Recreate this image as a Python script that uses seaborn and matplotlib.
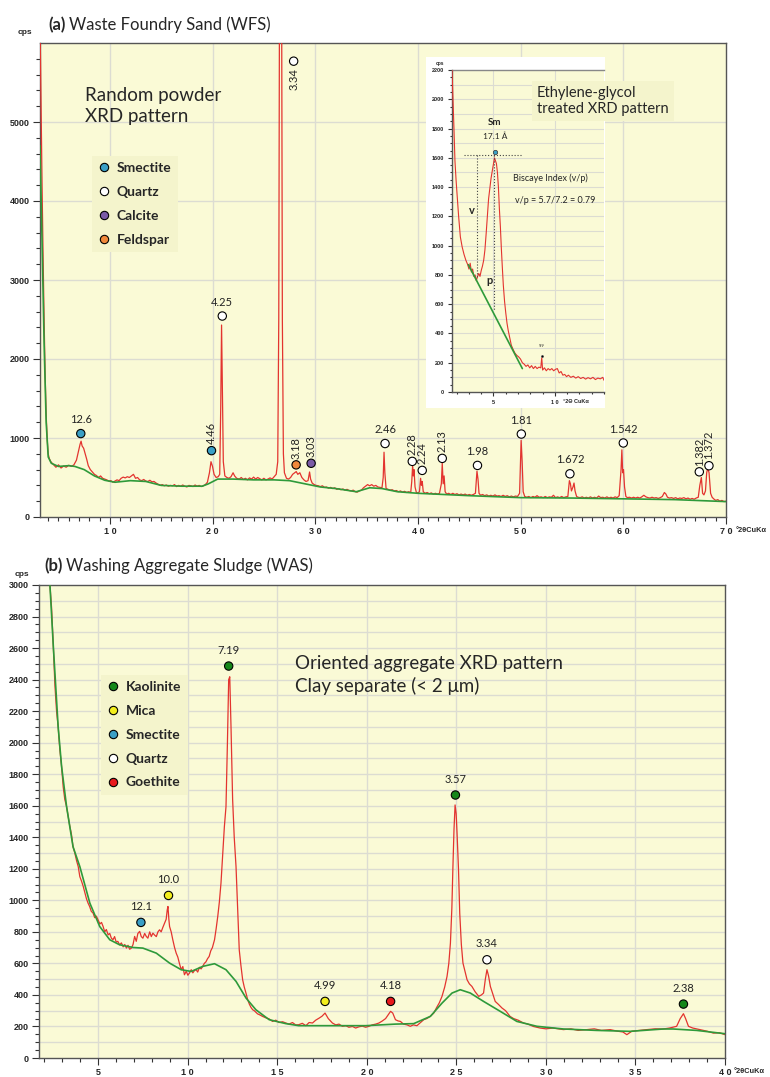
import numpy as np
import pandas as pd
import matplotlib
matplotlib.use("Agg")
import matplotlib.pyplot as plt
import seaborn as sns
from matplotlib.lines import Line2D
from matplotlib.patches import Rectangle

sns.set_style("white")
plt.rcParams['font.family'] = ['Lato', 'DejaVu Sans']

# ---------------- (a) Waste Foundry Sand, random powder pattern ----------------
WFS_2THETA = [
    3.2, 3.3, 3.4, 3.5, 3.6, 3.7, 3.8, 3.9, 4.0, 4.1,
    4.25, 4.5, 4.75, 5.0, 5.25, 5.5, 5.75, 6.0, 6.25, 6.5,
    6.75, 7.0, 7.1, 7.2, 7.3, 7.45, 7.6, 7.75, 7.9, 8.1,
    8.3, 8.5, 8.7, 8.9, 9.1, 9.3, 9.5, 9.7, 9.9, 10.1,
    10.3, 10.5, 10.7, 10.9, 11.1, 11.3, 11.5, 11.7, 11.9, 12.1,
    12.3, 12.5, 12.7, 12.9, 13.1, 13.3, 13.5, 13.7, 13.9, 14.1,
    14.3, 14.5, 14.7, 14.9, 15.1, 15.3, 15.5, 15.7, 15.9, 16.1,
    16.3, 16.5, 16.7, 16.9, 17.1, 17.3, 17.5, 17.7, 17.9, 18.1,
    18.3, 18.5, 18.7, 18.9, 19.1, 19.3, 19.5, 19.7, 19.85, 20.0,
    20.15, 20.35, 20.55, 20.7, 20.8, 20.88, 20.96, 21.05, 21.2, 21.4,
    21.6, 21.8, 22.0, 22.15, 22.35, 22.6, 22.8, 23.0, 23.2, 23.4,
    23.6, 23.8, 24.0, 24.2, 24.4, 24.6, 24.8, 25.0, 25.2, 25.4,
    25.6, 25.8, 26.0, 26.2, 26.35, 26.45, 26.52, 26.73, 26.8, 26.9,
    27.0, 27.2, 27.4, 27.6, 27.8, 28.0, 28.15, 28.3, 28.5, 28.7,
    28.9, 29.1, 29.3, 29.45, 29.55, 29.7, 29.9, 30.1, 30.3, 30.5,
    30.7, 30.9, 31.1, 31.3, 31.5, 31.7, 31.9, 32.1, 32.3, 32.5,
    32.7, 32.9, 33.1, 33.3, 33.5, 33.7, 33.9, 34.1, 34.3, 34.5,
    34.7, 34.9, 35.1, 35.3, 35.5, 35.7, 35.9, 36.1, 36.3, 36.5,
    36.62, 36.7, 36.78, 36.9, 37.1, 37.3, 37.5, 37.7, 37.9, 38.1,
    38.3, 38.5, 38.7, 38.9, 39.1, 39.3, 39.4, 39.48, 39.55, 39.62,
    39.72, 39.85, 40.0, 40.15, 40.26, 40.34, 40.42, 40.52, 40.7, 40.9,
    41.1, 41.3, 41.5, 41.7, 41.9, 42.1, 42.28, 42.37, 42.46, 42.55,
    42.65, 42.8, 43.0, 43.2, 43.4, 43.6, 43.8, 44.0, 44.2, 44.4,
    44.6, 44.8, 45.0, 45.2, 45.4, 45.6, 45.75, 45.85, 45.95, 46.1,
    46.3, 46.5, 46.7, 46.9, 47.1, 47.3, 47.5, 47.7, 47.9, 48.1,
    48.3, 48.5, 48.7, 48.9, 49.1, 49.3, 49.5, 49.7, 49.9, 50.05,
    50.15, 50.25, 50.4, 50.6, 50.8, 51.0, 51.2, 51.4, 51.6, 51.8,
    52.0, 52.2, 52.4, 52.6, 52.8, 53.0, 53.2, 53.4, 53.6, 53.8,
    54.0, 54.2, 54.4, 54.6, 54.75, 54.85, 54.95, 55.1, 55.2, 55.3,
    55.45, 55.6, 55.8, 56.0, 56.2, 56.4, 56.6, 56.8, 57.0, 57.2,
    57.4, 57.6, 57.8, 58.0, 58.2, 58.4, 58.6, 58.8, 59.0, 59.2,
    59.4, 59.6, 59.78, 59.86, 59.94, 60.02, 60.12, 60.25, 60.4, 60.6,
    60.8, 61.0, 61.2, 61.4, 61.6, 61.8, 62.0, 62.2, 62.4, 62.6,
    62.8, 63.0, 63.2, 63.4, 63.6, 63.8, 64.0, 64.15, 64.3, 64.5,
    64.7, 64.9, 65.1, 65.3, 65.5, 65.7, 65.9, 66.1, 66.3, 66.5,
    66.7, 66.9, 67.1, 67.3, 67.45, 67.6, 67.72, 67.85, 68.0, 68.12,
    68.22, 68.35, 68.5, 68.65, 68.8, 69.0, 69.2, 69.4, 69.6, 69.8,
    70.0]
WFS_CPS = [
    6300, 5200, 4200, 3300, 2500, 1800, 1300, 980, 800, 740,
    700, 665, 630, 660, 620, 645, 630, 655, 640, 660,
    720, 860, 920, 960, 900, 870, 800, 730, 650, 600,
    570, 540, 525, 500, 520, 490, 480, 470, 455, 460,
    440, 455, 470, 460, 490, 505, 495, 510, 500, 520,
    540, 490, 500, 470, 460, 475, 455, 450, 465, 445,
    450, 430, 415, 400, 410, 395, 405, 390, 400, 395,
    410, 385, 400, 390, 405, 390, 380, 400, 395, 385,
    405, 390, 400, 385, 395, 410, 440, 560, 700, 640,
    540, 500, 510, 540, 1400, 2430, 1600, 700, 520, 500,
    490, 510, 560, 520, 490, 480, 500, 475, 490, 470,
    495, 480, 505, 480, 500, 485, 470, 490, 470, 480,
    495, 480, 510, 540, 700, 2500, 6600, 6600, 2500, 800,
    560, 490, 480, 500, 540, 560, 575, 540, 560, 500,
    470, 450, 460, 570, 480, 430, 410, 400, 395, 385,
    395, 375, 380, 365, 375, 360, 370, 350, 360, 345,
    355, 340, 350, 335, 330, 340, 320, 315, 330, 340,
    370, 390, 410, 395, 410, 390, 400, 380, 375, 370,
    500, 820, 560, 360, 350, 340, 345, 330, 335, 320,
    330, 315, 325, 310, 320, 310, 450, 640, 520, 600,
    380, 310, 305, 320, 490, 400, 450, 320, 300, 310,
    295, 305, 290, 300, 290, 300, 420, 680, 420, 520,
    320, 290, 300, 285, 300, 285, 295, 280, 290, 280,
    290, 275, 285, 275, 285, 300, 580, 480, 300, 275,
    285, 270, 280, 265, 275, 265, 280, 265, 270, 260,
    275, 260, 270, 255, 265, 255, 265, 260, 300, 970,
    700, 320, 260, 250, 260, 245, 260, 250, 270, 250,
    255, 245, 260, 245, 255, 250, 275, 245, 255, 245,
    260, 245, 255, 260, 460, 420, 330, 380, 430, 330,
    260, 250, 245, 255, 240, 250, 240, 255, 240, 250,
    240, 265, 245, 250, 240, 255, 240, 250, 240, 255,
    245, 270, 600, 850, 560, 600, 380, 260, 245, 250,
    240, 250, 240, 250, 240, 255, 275, 255, 245, 240,
    250, 240, 245, 235, 245, 260, 310, 290, 250, 240,
    245, 235, 245, 230, 240, 235, 245, 230, 240, 225,
    235, 225, 240, 250, 400, 500, 300, 280, 330, 560,
    620, 560, 300, 250, 230, 210, 220, 200, 210, 195,
    200]
WFS_BG_2THETA = [3.2, 3.4, 3.6, 3.8, 4.0, 4.3, 5.0, 6.0, 6.6, 7.5,
                 8.5, 9.5, 10.5, 12.0, 13.5, 15.0, 17.0, 19.0, 19.6, 20.5,
                 22.0, 24.0, 26.0, 27.5, 29.0, 30.5, 32.0, 34.0, 35.3, 36.5,
                 38.0, 40.0, 45.0, 50.0, 55.0, 60.0, 65.0, 70.0]
WFS_BG_CPS = [4700, 3500, 2200, 1200, 760, 680, 640, 650, 640, 600,
              520, 465, 440, 460, 450, 400, 390, 390, 420, 480,
              480, 470, 470, 460, 420, 380, 360, 320, 370, 360,
              320, 300, 270, 245, 240, 230, 220, 195]

PEAK_A_2THETA = [7.17, 19.9, 20.95, 27.9, 28.14, 29.6, 36.8, 39.45, 40.42, 42.37,
                 45.8, 50.07, 54.8, 60.0, 67.4, 68.34]
PEAK_A_CPS = [1056, 840, 2544, 5770, 660, 680, 930, 704, 590, 742,
              653, 1050, 547, 937, 572, 649]
PEAK_A_MINERAL = ['Smectite', 'Smectite', 'Quartz', 'Quartz', 'Feldspar', 'Calcite',
                  'Quartz', 'Quartz', 'Quartz', 'Quartz', 'Quartz', 'Quartz',
                  'Quartz', 'Quartz', 'Quartz', 'Quartz']
PEAK_A_D = ['12.6', '4.46', '4.25', '3.34', '3.18', '3.03', '2.46', '2.28', '2.24',
            '2.13', '1.98', '1.81', '1.672', '1.542', '1.382', '1.372']
PEAK_A_ORIENT = ['h', 'v', 'h', 'vb', 'v', 'v', 'h', 'v', 'v', 'v', 'h', 'h', 'h',
                 'h', 'v', 'v']
LEGEND_A = ['Smectite', 'Quartz', 'Calcite', 'Feldspar']

# ---------------- inset: ethylene-glycol treated ----------------
EG_2THETA = [
    1.62, 1.7, 1.78, 1.86, 1.95, 2.05, 2.16, 2.3, 2.45, 2.6,
    2.75, 2.9, 3.0, 3.1, 3.2, 3.3, 3.4, 3.5, 3.6, 3.7,
    3.8, 3.9, 4.0, 4.1, 4.2, 4.3, 4.4, 4.5, 4.6, 4.7,
    4.8, 4.9, 5.0, 5.08, 5.16, 5.24, 5.32, 5.4, 5.48, 5.56,
    5.64, 5.72, 5.8, 5.9, 6.0, 6.1, 6.2, 6.3, 6.45, 6.6,
    6.75, 6.9, 7.05, 7.2, 7.35, 7.5, 7.65, 7.8, 7.95, 8.1,
    8.25, 8.4, 8.55, 8.7, 8.85, 8.93, 9.0, 9.15, 9.3, 9.45,
    9.6, 9.75, 9.9, 10.05, 10.2, 10.35, 10.5, 10.65, 10.8, 10.95,
    11.1, 11.3, 11.5, 11.7, 11.9, 12.1, 12.3, 12.5, 12.7, 12.9,
    13.1, 13.3, 13.5, 13.7, 13.9, 14.0]
EG_CPS = [
    2200, 2000, 1800, 1580, 1450, 1330, 1200, 1060, 990, 940,
    900, 870, 840, 880, 820, 840, 790, 800, 760, 790,
    810, 790, 830, 860, 900, 970, 1080, 1200, 1320, 1390,
    1460, 1510, 1560, 1600, 1580, 1560, 1500, 1400, 1250, 1130,
    980, 850, 730, 620, 540, 470, 420, 380, 320, 290,
    265, 250, 240, 225, 200, 190, 175, 185, 165, 180,
    160, 175, 160, 170, 165, 235, 150, 165, 145, 160,
    150, 160, 145, 155, 160, 130, 140, 115, 120, 105,
    115, 100, 108, 95, 105, 92, 100, 88, 98, 90,
    100, 85, 95, 90, 100, 80]
EG_BASE_2THETA = [2.95, 7.35]
EG_BASE_CPS = [870, 160]
SM_PEAK = (5.13, 1640)
SM_TOP_CPS = 1620
V_2THETA, V_BOTTOM = 3.66, 786
P_2THETA, P_BOTTOM = 5.08, 558
GUIDE_2THETA = [2.57, 7.35]
PEAK_99 = (8.93, 243)

# ---------------- (b) Washing Aggregate Sludge, oriented clay ----------------
WAS_2THETA = [
    1.7, 2.2, 2.31, 2.4, 2.5, 2.59, 2.68, 2.77, 2.86, 2.96,
    3.05, 3.14, 3.24, 3.33, 3.42, 3.51, 3.6, 3.7, 3.8, 3.89,
    3.98, 4.08, 4.17, 4.26, 4.35, 4.44, 4.53, 4.62, 4.72, 4.81,
    4.9, 5.0, 5.1, 5.19, 5.28, 5.37, 5.46, 5.56, 5.65, 5.74,
    5.83, 5.92, 6.01, 6.1, 6.2, 6.3, 6.4, 6.49, 6.58, 6.67,
    6.76, 6.86, 6.95, 7.04, 7.13, 7.22, 7.32, 7.41, 7.5, 7.6,
    7.69, 7.78, 7.88, 7.97, 8.06, 8.15, 8.25, 8.34, 8.43, 8.52,
    8.62, 8.71, 8.8, 8.86, 8.9, 8.95, 8.99, 9.08, 9.17, 9.27,
    9.36, 9.45, 9.54, 9.64, 9.73, 9.82, 9.92, 10.01, 10.1, 10.2,
    10.29, 10.38, 10.47, 10.56, 10.66, 10.75, 10.84, 10.93, 11.02, 11.11,
    11.2, 11.29, 11.38, 11.5, 11.59, 11.68, 11.77, 11.86, 11.95, 12.05,
    12.14, 12.22, 12.29, 12.35, 12.42, 12.51, 12.6, 12.7, 12.79, 12.88,
    12.97, 13.07, 13.16, 13.26, 13.35, 13.45, 13.54, 13.63, 13.72, 13.81,
    13.9, 14.0, 14.18, 14.36, 14.55, 14.74, 14.92, 15.1, 15.3, 15.48,
    15.66, 15.85, 16.03, 16.2, 16.4, 16.6, 16.78, 16.97, 17.15, 17.34,
    17.5, 17.67, 17.85, 18.08, 18.27, 18.45, 18.64, 18.83, 19.0, 19.2,
    19.38, 19.57, 19.75, 19.94, 20.12, 20.3, 20.5, 20.68, 20.87, 21.05,
    21.2, 21.33, 21.45, 21.6, 21.75, 21.88, 22.05, 22.25, 22.43, 22.6,
    22.8, 23.0, 23.18, 23.35, 23.55, 23.74, 23.9, 24.05, 24.2, 24.35,
    24.48, 24.58, 24.67, 24.75, 24.81, 24.87, 24.93, 24.99, 25.04, 25.12,
    25.19, 25.28, 25.37, 25.48, 25.6, 25.73, 25.87, 26.05, 26.25, 26.4,
    26.52, 26.62, 26.71, 26.8, 26.9, 27.05, 27.17, 27.35, 27.55, 27.75,
    28.0, 28.2, 28.45, 28.75, 29.0, 29.3, 29.68, 30.0, 30.4, 30.98,
    31.4, 31.8, 32.29, 32.7, 33.1, 33.59, 34.0, 34.3, 34.52, 34.8,
    35.2, 35.63, 36.1, 36.56, 36.9, 37.3, 37.5, 37.68, 37.8, 37.96,
    38.2, 38.6, 39.0, 39.35, 39.7, 40.0]
WAS_CPS = [
    3300, 3100, 3000, 2860, 2610, 2360, 2200, 2100, 1960, 1850,
    1720, 1640, 1594, 1530, 1470, 1420, 1340, 1300, 1250, 1214,
    1150, 1120, 1088, 1050, 1010, 982, 960, 930, 919, 890,
    900, 876, 850, 860, 834, 800, 815, 781, 790, 760,
    750, 770, 735, 740, 718, 730, 705, 720, 697, 715,
    690, 697, 720, 771, 740, 790, 803, 770, 760, 790,
    771, 760, 800, 770, 792, 780, 770, 800, 813, 800,
    830, 855, 880, 940, 961, 880, 834, 800, 750, 700,
    665, 640, 600, 560, 580, 528, 550, 525, 539, 560,
    540, 555, 560, 545, 575, 565, 581, 600, 610, 630,
    644, 680, 700, 750, 820, 898, 990, 1109, 1280, 1468,
    1594, 2000, 2400, 2418, 2100, 1640, 1400, 1214, 950, 686,
    590, 496, 450, 410, 370, 340, 320, 306, 300, 290,
    280, 275, 264, 255, 248, 232, 240, 225, 230, 222,
    215, 225, 210, 211, 220, 205, 225, 222, 240, 253,
    265, 285, 250, 222, 210, 215, 201, 205, 195, 200,
    190, 198, 202, 195, 201, 210, 215, 222, 235, 250,
    275, 296, 285, 243, 235, 232, 215, 210, 201, 210,
    205, 225, 243, 250, 265, 285, 320, 350, 391, 450,
    517, 600, 729, 950, 1214, 1450, 1605, 1550, 1426, 1200,
    919, 720, 602, 550, 496, 470, 454, 420, 391, 400,
    412, 500, 560, 520, 454, 400, 359, 340, 317, 300,
    264, 250, 240, 222, 215, 200, 190, 185, 190, 180,
    185, 175, 180, 185, 175, 180, 170, 165, 148, 170,
    175, 180, 185, 184, 190, 201, 250, 281, 250, 201,
    190, 180, 170, 158, 160, 148]
WAS_BG_2THETA = [1.7, 2.31, 2.5, 2.77, 2.96, 3.24, 3.6, 3.98, 4.54, 5.09,
                 5.65, 6.2, 6.95, 7.5, 8.25, 8.99, 9.64, 10.2, 10.84, 11.5,
                 12.14, 12.7, 13.26, 13.81, 14.55, 15.48, 16.2, 18.08, 19.94, 21.6,
                 22.62, 23.55, 24.2, 24.76, 25.22, 25.78, 26.52, 27.45, 28.38, 29.5,
                 30.98, 32.84, 34.7, 36.56, 37.1, 38.42, 40.0]
WAS_BG_CPS = [3300, 3000, 2610, 2100, 1850, 1594, 1340, 1214, 982, 834,
              750, 718, 701, 697, 665, 602, 560, 549, 581, 598,
              560, 486, 380, 306, 243, 218, 205, 205, 205, 215,
              218, 264, 348, 412, 433, 412, 359, 296, 232, 201,
              184, 175, 169, 184, 184, 175, 154]

PEAK_B_2THETA = [7.39, 8.93, 12.29, 17.67, 21.33, 24.95, 26.71, 37.68]
PEAK_B_CPS = [860, 1031, 2486, 359, 359, 1668, 623, 342]
PEAK_B_MINERAL = ['Smectite', 'Mica', 'Kaolinite', 'Mica', 'Goethite', 'Kaolinite',
                  'Quartz', 'Kaolinite']
PEAK_B_D = ['12.1', '10.0', '7.19', '4.99', '4.18', '3.57', '3.34', '2.38']
LEGEND_B = ['Kaolinite', 'Mica', 'Smectite', 'Quartz', 'Goethite']

MINERAL_COLORS = {'Smectite': '#3a9fc6', 'Quartz': '#ffffff', 'Calcite': '#7a5aa6',
                  'Feldspar': '#f0883a', 'Kaolinite': '#15871a', 'Mica': '#f3ee1c',
                  'Goethite': '#e8191c'}

# ---------------- styling ----------------
W, H = 770, 1077
BG = '#fafad6'
LEGBG = '#f4f4cc'
RED = '#e3342f'
GREEN = '#2e9a3a'
GRID = '#dcdcd2'
SPINE = '#555555'
TICKFONT = dict(family=['Liberation Sans', 'DejaVu Sans'], fontweight='bold')

fig = plt.figure(figsize=(W / 100, H / 100), dpi=100)


def fx(px):
    return px / W


def fy(py):
    return 1 - py / H


def rect(l, t, r, b):
    return [fx(l), fy(b), (r - l) / W, (b - t) / H]


def spaced(v):
    return ' '.join(str(int(round(v))))


def style_axes(ax, xlim, ylim, xmaj, xmin, ymaj, ymin, fs, tl):
    ax.set_facecolor(BG)
    ax.set_xlim(*xlim)
    ax.set_ylim(*ylim)
    ax.set_xticks(xmaj, labels=[spaced(v) for v in xmaj], fontsize=fs, **TICKFONT)
    ax.set_xticks(xmin, minor=True)
    ax.set_yticks(ymaj, labels=[str(int(v)) for v in ymaj], fontsize=fs, **TICKFONT)
    ax.set_yticks(ymin, minor=True)
    ax.tick_params(which='both', direction='out', color='#333333', width=0.8,
                   bottom=True, left=True)
    ax.tick_params(which='major', length=tl, pad=2.5)
    ax.tick_params(which='minor', length=tl * 0.6)
    for s in ax.spines.values():
        s.set_color(SPINE)
        s.set_linewidth(1.0)
    ax.set_xlabel('')
    ax.set_ylabel('')


def draw_pattern(ax, x, y, bx, by, lw=0.9):
    sns.lineplot(x=x, y=y, ax=ax, color=RED, lw=lw, estimator=None, sort=False, zorder=3)
    if bx is not None:
        sns.lineplot(x=bx, y=by, ax=ax, color=GREEN, lw=1.2, estimator=None, sort=False,
                     zorder=4)


def draw_peaks(ax, xs, ys, minerals, labels, orient, s, off):
    df = pd.DataFrame({'2theta': xs, 'cps': ys, 'mineral': minerals})
    sns.scatterplot(data=df, x='2theta', y='cps', hue='mineral', palette=MINERAL_COLORS,
                    s=s, edgecolor='black', linewidth=0.8, legend=False, ax=ax, zorder=6)
    for x, y, lab, o in zip(xs, ys, labels, orient):
        if o == 'h':
            ax.annotate(lab, (x, y), xytext=(0, off), textcoords='offset points',
                        ha='center', va='center', fontsize=8, color='#222222', zorder=7)
        elif o == 'v':
            ax.annotate(lab, (x, y), xytext=(0, 4.5), textcoords='offset points',
                        ha='center', va='bottom', rotation=90, fontsize=8,
                        color='#222222', zorder=7)
        else:
            ax.annotate(lab, (x, y), xytext=(0, -5), textcoords='offset points',
                        ha='center', va='top', rotation=90, fontsize=8,
                        color='#222222', zorder=7)
    ax.set_xlabel('')
    ax.set_ylabel('')


def legend(ax, names, left_px, top_px):
    handles = [Line2D([], [], marker='o', ls='none', markersize=6,
                      markerfacecolor=MINERAL_COLORS[n], markeredgecolor='black',
                      markeredgewidth=0.8) for n in names]
    leg = ax.legend(handles, names, loc='upper left', bbox_to_anchor=(fx(left_px), fy(top_px)),
                    bbox_transform=fig.transFigure, frameon=True, facecolor=LEGBG,
                    edgecolor='none', framealpha=1, fancybox=False, handlelength=0.8,
                    handletextpad=0.55, labelspacing=0.85, borderpad=0.45,
                    prop=dict(family='Lato', weight='bold', size=10))
    leg.set_zorder(8)


def title(x_px, y_px, tag, rest):
    t1 = fig.text(fx(x_px), fy(y_px), tag, fontsize=12, fontweight='bold', va='center')
    r = fig.canvas.get_renderer()
    bb = t1.get_window_extent(renderer=r)
    fig.text(bb.x1 / W + 4 / W, fy(y_px), rest, fontsize=12, va='center')


# ---------------- panel (a) ----------------
ax_a = fig.add_axes(rect(40, 43, 726, 517))
style_axes(ax_a, (3.2, 70), (0, 6000), list(range(10, 71, 10)), np.arange(4, 70, 1),
           [0, 1000, 2000, 3000, 4000, 5000], np.arange(200, 6000, 200), 6.5, 5)
for v in range(10, 70, 10):
    ax_a.axvline(v, color=GRID, lw=1.0, zorder=0.5)
for v in range(1000, 6000, 1000):
    ax_a.axhline(v, color=GRID, lw=1.0, zorder=0.5)
draw_pattern(ax_a, WFS_2THETA, WFS_CPS, WFS_BG_2THETA, WFS_BG_CPS)
draw_peaks(ax_a, PEAK_A_2THETA, PEAK_A_CPS, PEAK_A_MINERAL, PEAK_A_D, PEAK_A_ORIENT, 36, 10)
legend(ax_a, LEGEND_A, 85, 149)
ax_a.annotate('°2θCuKα', xy=(1, 0), xycoords='axes fraction', xytext=(7, -10),
              textcoords='offset points', ha='left', va='center', fontsize=5.3, **TICKFONT)
fig.text(fx(85), fy(87), 'Random powder\nXRD pattern', fontsize=13.5, va='top', ha='left',
         linespacing=1.3)
fig.text(fx(25), fy(33), 'cps', ha='center', va='center', fontsize=6, **TICKFONT)
title(48, 25, '(a)', 'Waste Foundry Sand (WFS)')

# ---------------- inset ----------------
fig.add_artist(Rectangle((fx(426), fy(408)), 179 / W, 351 / H, transform=fig.transFigure,
                         facecolor='white', edgecolor='none', zorder=2))
ax_i = fig.add_axes(rect(452, 70, 604, 392))
ax_i.set_zorder(3)
style_axes(ax_i, (1.62, 14.0), (0, 2200), [5, 10], np.arange(2, 15, 1),
           list(range(0, 2201, 200)), np.arange(50, 2200, 50), 4, 3)
ax_i.spines['right'].set_visible(False)
ax_i.spines['top'].set_color('#888888')
for v in [5, 10]:
    ax_i.axvline(v, color=GRID, lw=0.8, zorder=0.5)
for v in range(100, 2200, 100):
    ax_i.axhline(v, color=GRID, lw=0.8, zorder=0.5)
draw_pattern(ax_i, EG_2THETA, EG_CPS, EG_BASE_2THETA, EG_BASE_CPS, lw=0.8)
ax_i.plot(GUIDE_2THETA, [SM_TOP_CPS, SM_TOP_CPS], ls=':', color='#444444', lw=0.8, zorder=5)
ax_i.plot([V_2THETA, V_2THETA], [SM_TOP_CPS, V_BOTTOM], ls=':', color='#444444', lw=0.8, zorder=5)
ax_i.plot([P_2THETA, P_2THETA], [SM_TOP_CPS, P_BOTTOM], ls=':', color='#444444', lw=0.8, zorder=5)
sns.scatterplot(x=[SM_PEAK[0]], y=[SM_PEAK[1]], ax=ax_i, s=10, color=MINERAL_COLORS['Smectite'],
                edgecolor='#333333', linewidth=0.5, zorder=6)
sns.scatterplot(x=[PEAK_99[0]], y=[PEAK_99[1]], ax=ax_i, s=4, color='black', zorder=6)
ax_i.set_xlabel('')
ax_i.set_ylabel('')
ax_i.text(PEAK_99[0], PEAK_99[1] + 60, '9.9', fontsize=3, ha='center', va='bottom')
ax_i.text(5.1, 1840, 'Sm', fontsize=7, fontweight='bold', ha='center', va='center')
ax_i.text(5.1, 1745, '17.1 Å', fontsize=6, ha='center', va='center')
ax_i.text(3.2, 1240, 'v', fontsize=8, fontweight='bold', ha='center', va='center')
ax_i.text(4.7, 760, 'p', fontsize=8, fontweight='bold', ha='center', va='center')
ax_i.text(6.62, 1460, 'Biscaye Index (v/p)', fontsize=6.5, ha='left', va='center')
ax_i.text(6.75, 1305, 'v/p = 5.7/7.2 = 0.79', fontsize=6.5, ha='left', va='center')
ax_i.annotate('°2Θ CuKα', xy=(10, 0), xycoords='data', xytext=(6, -7),
              textcoords='offset points', ha='left', va='center', fontsize=4, **TICKFONT)
fig.text(fx(440), fy(63), 'cps', ha='center', va='center', fontsize=3.5, zorder=4, **TICKFONT)
fig.text(fx(537), fy(86), 'Ethylene-glycol\ntreated XRD pattern', fontsize=10.5, va='top',
         ha='left', linespacing=1.2, zorder=6,
         bbox=dict(boxstyle='square,pad=0.35', facecolor=LEGBG, edgecolor='none'))

# ---------------- panel (b) ----------------
ax_b = fig.add_axes(rect(39, 585, 725, 1058))
style_axes(ax_b, (1.7, 40), (0, 3000), list(range(5, 41, 5)), np.arange(2, 40, 1),
           list(range(0, 3001, 200)), np.arange(50, 3000, 50), 6.5, 5)
for v in range(5, 40, 5):
    ax_b.axvline(v, color=GRID, lw=1.0, zorder=0.5)
for v in range(100, 3000, 100):
    ax_b.axhline(v, color=GRID, lw=1.0, zorder=0.5)
draw_pattern(ax_b, WAS_2THETA, WAS_CPS, WAS_BG_2THETA, WAS_BG_CPS)
draw_peaks(ax_b, PEAK_B_2THETA, PEAK_B_CPS, PEAK_B_MINERAL, PEAK_B_D, ['h'] * 8, 36, 11.5)
legend(ax_b, LEGEND_B, 94, 668)
ax_b.annotate('°2θCuKα', xy=(1, 0), xycoords='axes fraction', xytext=(6, -10),
              textcoords='offset points', ha='left', va='center', fontsize=5.3, **TICKFONT)
fig.text(fx(295), fy(655), 'Oriented aggregate XRD pattern\nClay separate (< 2 μm)',
         fontsize=13.5, va='top', ha='left', linespacing=1.3)
fig.text(fx(22), fy(575), 'cps', ha='center', va='center', fontsize=6, **TICKFONT)
title(44, 566, '(b)', 'Washing Aggregate Sludge (WAS)')

fig.savefig('out.png', dpi=100, facecolor='white')
